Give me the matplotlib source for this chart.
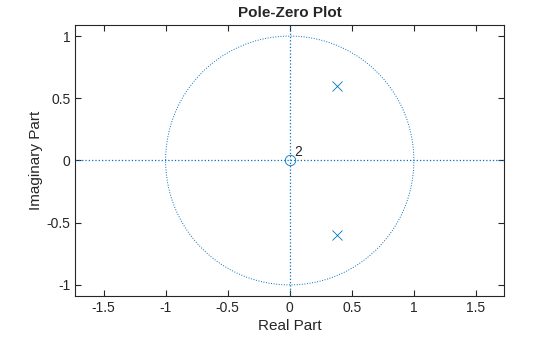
import numpy as np
import matplotlib
matplotlib.use("Agg")
import matplotlib.pyplot as plt

plt.rcParams['font.family'] = ['Liberation Sans', 'DejaVu Sans']

# poles / zeros
zeros_re = [0.0]
zeros_im = [0.0]
zero_mult = ["2"]
poles_re = [0.38, 0.38]
poles_im = [0.6, -0.6]

xticks = [-1.5, -1, -0.5, 0, 0.5, 1, 1.5]
xtick_labels = ["-1.5", "-1", "-0.5", "0", "0.5", "1", "1.5"]
yticks = [-1, -0.5, 0, 0.5, 1]
ytick_labels = ["-1", "-0.5", "0", "0.5", "1"]

blue = "#0072BD"
dark = "#262626"

fig = plt.figure(figsize=(5.6, 3.37), dpi=100)
ax = fig.add_axes([0.1348, 0.1217, 0.7652, 0.8041])

xlim = (-1.726, 1.726)
ylim = (-1.089, 1.089)

t = np.linspace(0, 2 * np.pi, 400)
ax.plot(np.cos(t), np.sin(t), ':', color=blue, lw=0.7)
ax.plot(xlim, [0, 0], ':', color=blue, lw=0.9)
ax.plot([0, 0], ylim, ':', color=blue, lw=0.9)

ax.plot(zeros_re, zeros_im, 'o', mfc='none', mec=blue, ms=7.5, mew=0.6)
ax.plot(poles_re, poles_im, 'x', color=blue, ms=7, mew=0.6)
for zr, zi, m in zip(zeros_re, zeros_im, zero_mult):
    ax.text(zr + 0.04, zi + 0.01, m, fontsize=10, color=dark, ha='left', va='bottom')

ax.set_xlim(*xlim)
ax.set_ylim(*ylim)
ax.set_xticks(xticks)
ax.set_xticklabels(xtick_labels)
ax.set_yticks(yticks)
ax.set_yticklabels(ytick_labels)
ax.tick_params(direction='in', top=True, right=True, labelsize=10, colors=dark, length=4, width=0.8)
for s in ax.spines.values():
    s.set_color(dark)
    s.set_linewidth(0.8)

ax.set_xlabel("Real Part", fontsize=11, color=dark, labelpad=3)
ax.set_ylabel("Imaginary Part", fontsize=11, color=dark, labelpad=3)
ax.set_title("Pole-Zero Plot", fontsize=11, fontweight='bold', color=dark, pad=6)

fig.savefig("out.png", dpi=100)
